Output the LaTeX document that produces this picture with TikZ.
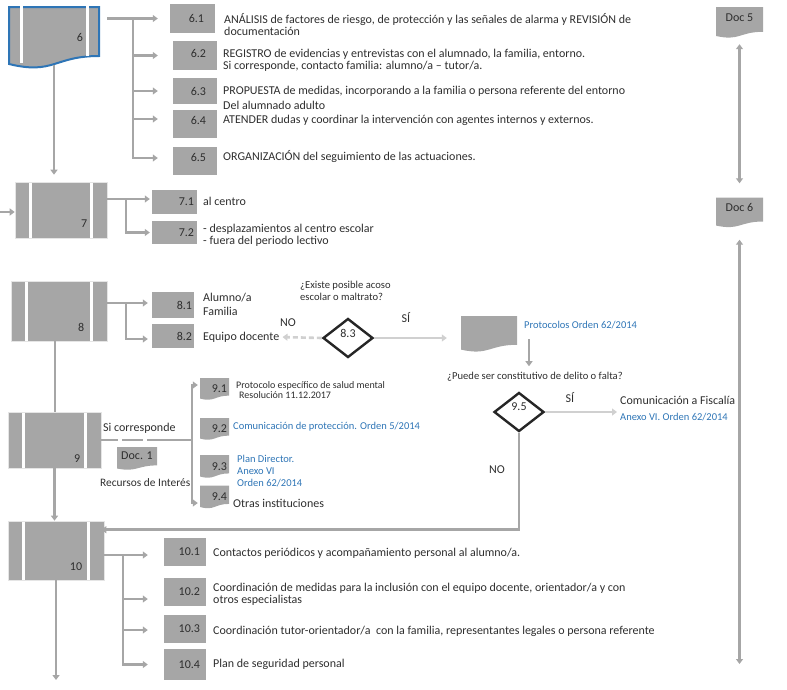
\documentclass[tikz,border=0pt]{standalone}
\usepackage{fontspec}
\setmainfont{Carlito}
\usetikzlibrary{shapes.geometric, arrows.meta, calc}

\definecolor{boxgrey}{HTML}{A6A6A6}
\definecolor{linegrey}{HTML}{A6A6A6}
\definecolor{lightline}{HTML}{D0D0D0}
\definecolor{ink}{HTML}{2E2E2E}
\definecolor{linkblue}{HTML}{2E75B6}
\definecolor{frameblue}{HTML}{2E75B6}

\tikzset{
  base/.style={font=\fontsize{12}{12}\selectfont, text=ink},
  txt/.style={base, anchor=west, inner sep=0, align=left},
  small/.style={font=\fontsize{10.5}{12}\selectfont},
  qfont/.style={font=\fontsize{10.6}{11.5}\selectfont},
  link/.style={text=linkblue},
  tag/.style={base, anchor=east, inner sep=0},
  gbox/.style={fill=boxgrey, inner sep=0},
  proc/.style={fill=boxgrey, draw=black!10, line width=0.6pt, inner sep=0,
    path picture={
      \fill[white] ([xshift=14pt]path picture bounding box.north west) rectangle ([xshift=17pt]path picture bounding box.south west);
      \fill[white] ([xshift=-17pt]path picture bounding box.north east) rectangle ([xshift=-14pt]path picture bounding box.south east);
    }},
  docnode/.style={base, inner sep=0,
    path picture={
      \coordinate (pn) at (path picture bounding box.north);
      \coordinate (ps) at (path picture bounding box.south);
      \coordinate (pnw) at (path picture bounding box.north west);
      \coordinate (pne) at (path picture bounding box.north east);
      \coordinate (psw) at (path picture bounding box.south west);
      \coordinate (pse) at (path picture bounding box.south east);
      \fill[boxgrey] (pnw) -- (pne) -- ($(pne)!0.8!(pse)$)
        .. controls ($(pn)!0.8!(ps)$) and ($(pn)!1.107!(ps)$) .. ($(pnw)!0.934!(psw)$) -- cycle;
    }},
  decision/.style={diamond, base, draw=black!85, line width=2.4pt, fill=white, inner sep=0,
    aspect=1.25, minimum width=50, minimum height=39, text depth=10pt},
  conn/.style={draw=linegrey, line width=2.6pt},
  arr/.style={conn, -{Triangle[length=5pt,width=7pt]}},
  larr/.style={draw=lightline, line width=2.6pt, -{Triangle[length=5pt,width=7pt]}},
  arr2/.style={conn, {Triangle[length=5pt,width=7pt]}-{Triangle[length=5pt,width=7pt]}},
}

\begin{document}
\begin{tikzpicture}[x=1pt, y=-1pt]
\useasboundingbox (0,0) rectangle (787,689);

% ---------- step 6: framed document process ----------
\filldraw[fill=boxgrey, draw=frameblue, line width=2pt]
  (9,7) -- (99,7) -- (99,56) .. controls (54,56) and (54,75) .. (9,64) -- cycle;
\fill[white] (20,4) rectangle (23,63);
\fill[white] (86,4) rectangle (89,56);
\node[inner sep=0, minimum width=92, minimum height=58,
      label={[tag, xshift=-17pt, yshift=-1pt]east:6}] (b6) at (54,36) {};

\node[gbox, minimum width=45, minimum height=29, label={[tag,xshift=-11pt]east:6.1}] (b61) at (192.5,18.5) {};
\node[gbox, minimum width=44, minimum height=29, label={[tag,xshift=-11pt,yshift=2pt]east:6.2}] (b62) at (195,55.5) {};
\node[gbox, minimum width=44, minimum height=26, label={[tag,xshift=-11pt]east:6.3}] (b63) at (195,91) {};
\node[gbox, minimum width=44, minimum height=28, label={[tag,xshift=-11pt,yshift=4pt]east:6.4}] (b64) at (195,124) {};
\node[gbox, minimum width=44, minimum height=28, label={[tag,xshift=-11pt,yshift=4pt]east:6.5}] (b65) at (195,161) {};

\node[txt] (t61) at (224,25) {ANÁLISIS de factores de riesgo, de protección y las señales de alarma y REVISIÓN de\\documentación};
\node[txt] (t62) at (223,60) {REGISTRO de evidencias y entrevistas con el alumnado, la familia, entorno.\\Si corresponde, contacto familia: alumno/a – tutor/a.};
\node[txt] (t63) at (223,98) {PROPUESTA de medidas, incorporando a la familia o persona referente del entorno\\[3pt]Del alumnado adulto};
\node[txt] (t64) at (223,120) {ATENDER dudas y coordinar la intervención con agentes internos y externos.};
\node[txt] (t65) at (223,157) {ORGANIZACIÓN del seguimiento de las actuaciones.};

\coordinate (o6) at ([xshift=7pt]b6.east |- b61.west);
\coordinate (j6) at (133,18.5);
\draw[arr, shorten >=12pt] (o6) -- (o6 -| b61.west);
\draw[arr, shorten >=15pt] (j6) |- (b62.west);
\draw[arr, shorten >=15pt] (j6) |- (b63.west);
\draw[arr, shorten >=15pt] (j6) |- ([yshift=5pt]b64.west);
\draw[arr, shorten >=15pt] (j6) |- ([yshift=3pt]b65.west);

% ---------- step 7 ----------
\node[proc, minimum width=92, minimum height=56,
      label={[tag, anchor=south east, xshift=-20pt, yshift=11pt]south east:7}] (b7) at (61,210) {};
\draw[arr, shorten >=7pt] (b6.south) -- (b6.south |- b7.north);
\coordinate (in7) at (0,212);
\draw[arr] (in7) -- (in7 -| b7.west);

\node[gbox, minimum width=45, minimum height=24, label={[tag,xshift=-3pt]east:7.1}] (b71) at (174.5,202) {};
\node[gbox, minimum width=45, minimum height=23, label={[tag,xshift=-3pt]east:7.2}] (b72) at (174.5,232.5) {};
\coordinate (o7) at ([yshift=11pt]b7.east);
\coordinate (j7) at (126,199);
\draw[arr, shorten >=2pt] (o7) -- (o7 -| b71.west);
\draw[arr, shorten >=2pt] (j7) |- (b72.west);
\node[txt] (t71) at (203,201) {al centro};
\node[txt] (t72) at (203,235) {- desplazamientos al centro escolar\\- fuera del periodo lectivo};

% ---------- step 8 ----------
\node[proc, minimum width=96, minimum height=60,
      label={[tag, anchor=south east, xshift=-23pt, yshift=10pt]south east:8}] (b8) at (59,311) {};
\node[gbox, minimum width=42, minimum height=26, label={[tag,xshift=-2pt]east:8.1}] (b81) at (173,305) {};
\node[gbox, minimum width=42, minimum height=24, label={[tag,xshift=-2pt]east:8.2}] (b82) at (173,336) {};
\coordinate (o8) at ([yshift=8pt]b8.east);
\coordinate (j8) at (126,303);
\draw[arr, shorten >=4pt] (o8) -- (o8 -| b81.west);
\draw[arr, shorten >=4pt] (j8) |- ([yshift=-3pt]b82.west);
\node[txt] (t81) at (203,304) {Alumno/a\\[2pt]Familia};
\node[txt] (t82) at (203,337) {Equipo docente};

\node[decision] (d83) at (348,338) {8.3};
\node[txt, qfont] (q83) at (300,291) {¿Existe posible acoso\\escolar o maltrato?};
\node[base, inner sep=0] (no83) at (288,323) {NO};
\node[base, inner sep=0] (si83) at (406,318) {SÍ};
\draw[larr, dash pattern=on 5pt off 3pt, shorten >=3pt] (d83.west) -- (t82.east);

\node[docnode, minimum width=56, minimum height=36] (dprot) at (489,334) {};
\draw[larr, shorten >=14pt] (d83.east) -- (d83.east -| dprot.west);
\node[txt, small, link] (tprot) at (524,325) {Protocolos Orden 62/2014};
\node[txt, qfont] (q2) at (447,377) {¿Puede ser constitutivo de delito o falta?};
\coordinate (p1) at ([xshift=5pt,yshift=-10pt]tprot.south west);
\draw[arr, shorten >=6pt] (p1) -- (p1 |- q2.north);

% ---------- step 9 ----------
\node[proc, minimum width=93, minimum height=56,
      label={[tag, anchor=south east, xshift=-21pt, yshift=6pt]south east:9}] (b9) at (54.5,440) {};
\draw[conn] ([xshift=-4pt]b8.south) -- ([xshift=-4pt]b8.south |- b9.north);

\node[txt] (sic) at (103,428) {Si corresponde};
\node[docnode, minimum width=40, minimum height=23, text depth=5pt] (doc1) at (137,458.5) {Doc. 1};
\node[txt, font=\fontsize{11.4}{12}\selectfont] (rec) at (100,483) {Recursos de Interés};

\node[docnode, minimum width=29, minimum height=22, label={[tag,xshift=-2pt]east:9.1}] (b91) at (214.5,389) {};
\node[docnode, minimum width=29, minimum height=22, label={[tag,xshift=-2pt]east:9.2}] (b92) at (214.5,429) {};
\node[docnode, minimum width=29, minimum height=23, label={[tag,xshift=-2pt]east:9.3}] (b93) at (214.5,466.5) {};
\node[docnode, minimum width=29, minimum height=23, label={[tag,xshift=-2pt]east:9.4}] (b94) at (214.5,497) {};

\coordinate (j9) at (192,440);
\draw[conn, dash pattern=on 17pt off 4pt on 21pt off 4pt on 80pt off 0pt] (b9.east) -- (j9);
\draw[arr, shorten >=2pt] (j9) |- ([yshift=4pt]b91.west);
\draw[arr, shorten >=2pt] (j9) |- ([yshift=-6pt]b94.west);

\node[txt, font=\fontsize{10}{10.5}\selectfont] (t91) at (236,390) {Protocolo específico de salud mental\\\hspace*{3pt}Resolución 11.12.2017};
\node[txt, small, link] (t92) at (233,427) {Comunicación de protección. Orden 5/2014};
\node[txt, small, link] (t93) at (237,471) {Plan Director.\\Anexo VI\\Orden 62/2014};
\node[txt] (t94) at (233,503) {Otras instituciones};

\node[decision] (d95) at (519,412) {9.5};
\node[base, inner sep=0] (si95) at (570,398) {SÍ};
\node[base, inner sep=0] (no95) at (497,470) {NO};
\node[txt] (tfisc) at (620,400) {Comunicación a Fiscalía};
\node[txt, small, link] (tanx) at (620,417) {Anexo VI. Orden 62/2014};
\draw[larr, shorten >=3pt] (d95.east) -- (d95.east -| tfisc.west);

% ---------- step 10 ----------
\node[proc, minimum width=96, minimum height=59,
      label={[tag, anchor=south east, xshift=-22pt, yshift=10pt]south east:10}] (b10) at (56,550.5) {};
\draw[arr] (b9.south) -- (b9.south |- b10.north);
\draw[arr, shorten >=-3pt] (d95.south) |- ([yshift=-9pt]b10.north east);
\coordinate (out10) at (56,680);
\draw[arr] (b10.south) -- (out10);

\node[gbox, minimum width=42, minimum height=28, label={[tag,xshift=-6pt]east:10.1}] (b101) at (185,552) {};
\node[gbox, minimum width=42, minimum height=28, label={[tag,xshift=-6pt]east:10.2}] (b102) at (185,592) {};
\node[gbox, minimum width=42, minimum height=28, label={[tag,xshift=-6pt]east:10.3}] (b103) at (185,629) {};
\node[gbox, minimum width=42, minimum height=31, label={[tag,xshift=-6pt]east:10.4}] (b104) at (185,664.5) {};
\coordinate (o10) at ([yshift=-4.5pt]b10.east);
\coordinate (j10) at (123,555);
\draw[arr, shorten >=16pt] (o10) -- (o10 -| b101.west);
\draw[arr, shorten >=16pt] (j10) |- ([yshift=-7pt]b102.west);
\draw[arr, shorten >=16pt] (j10) |- ([yshift=-1pt]b103.west);
\draw[arr, shorten >=16pt] (j10) |- (b104.west);

\node[txt] (t101) at (213,553) {Contactos periódicos y acompañamiento personal al alumno/a.};
\node[txt] (t102) at (213,594) {Coordinación de medidas para la inclusión con el equipo docente, orientador/a y con\\otros especialistas};
\node[txt] (t103) at (213,631) {Coordinación tutor-orientador/a \ con la familia, representantes legales o persona referente};
\node[txt] (t104) at (213,664) {Plan de seguridad personal};

% ---------- documents on the right ----------
\node[docnode, minimum width=47, minimum height=31, text depth=10pt] (d5) at (739.5,22.5) {Doc 5};
\node[docnode, minimum width=47, minimum height=30, text depth=10pt] (d6) at (739.5,212.5) {Doc 6};
\draw[arr2, shorten <=6pt, shorten >=14pt] (d5.south) -- (d6.north);
\coordinate (rend) at (739.5,664);
\draw[arr2, shorten <=12pt] (d6.south) -- (rend);

\end{tikzpicture}
\end{document}
